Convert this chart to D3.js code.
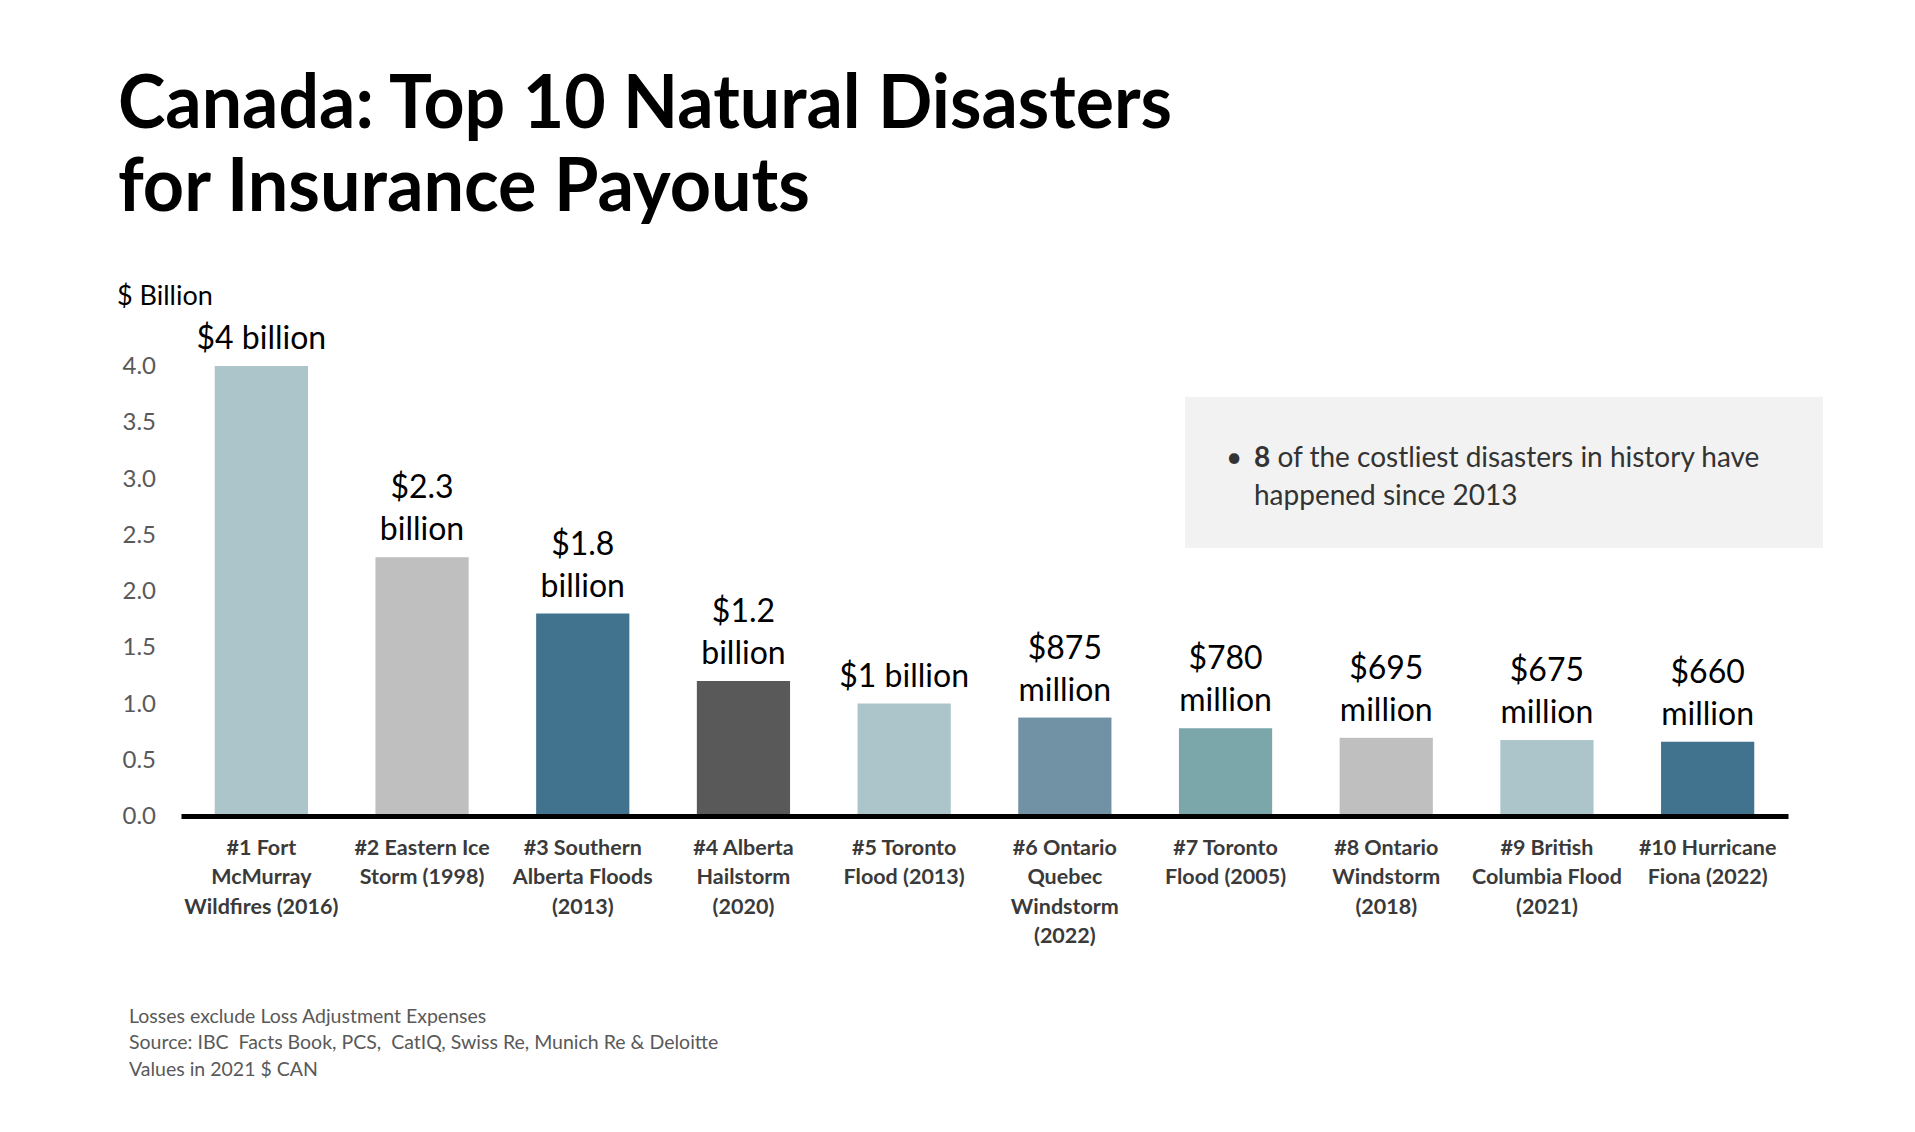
<!DOCTYPE html>
<html>
<head>
<meta charset="utf-8">
<script src="https://cdn.jsdelivr.net/npm/d3@7/dist/d3.min.js"></script>
<style>
  html, body { margin: 0; padding: 0; background: #ffffff; }
  svg { display: block; font-family: Lato, "Open Sans", sans-serif; }
</style>
</head>
<body>
<svg id="chart" width="1915" height="1132"></svg>
<script>
// ---- data ----
const categories = [
  ["#1 Fort", "McMurray", "Wildfires (2016)"],
  ["#2 Eastern Ice", "Storm (1998)"],
  ["#3 Southern", "Alberta Floods", "(2013)"],
  ["#4 Alberta", "Hailstorm", "(2020)"],
  ["#5 Toronto", "Flood (2013)"],
  ["#6 Ontario", "Quebec", "Windstorm", "(2022)"],
  ["#7 Toronto", "Flood (2005)"],
  ["#8 Ontario", "Windstorm", "(2018)"],
  ["#9 British", "Columbia Flood", "(2021)"],
  ["#10 Hurricane", "Fiona (2022)"]
];
const values = [4.0, 2.3, 1.8, 1.2, 1.0, 0.875, 0.78, 0.695, 0.675, 0.66];
const valueLabels = [
  ["$4 billion"],
  ["$2.3", "billion"],
  ["$1.8", "billion"],
  ["$1.2", "billion"],
  ["$1 billion"],
  ["$875", "million"],
  ["$780", "million"],
  ["$695", "million"],
  ["$675", "million"],
  ["$660", "million"]
];
const barColors = ["#abc5ca", "#bfbfbf", "#41728e", "#595959", "#abc5ca",
                   "#7192a4", "#7ba7ab", "#bfbfbf", "#abc5ca", "#41728e"];
const yTicks = [0, 0.5, 1.0, 1.5, 2.0, 2.5, 3.0, 3.5, 4.0];
const titleLines = ["Canada: Top 10 Natural Disasters", "for Insurance Payouts"];
const notes = [
  "Losses exclude Loss Adjustment Expenses",
  "Source: IBC\u00a0 Facts Book, PCS,\u00a0 CatIQ, Swiss Re, Munich Re & Deloitte",
  "Values in 2021 $ CAN"
];

// ---- layout ----
const svg = d3.select("#chart");
const plot = { left: 181, right: 1788, top: 366, bottom: 816 };

const x = d3.scaleBand()
  .domain(d3.range(values.length))
  .range([plot.left, plot.right])
  .paddingInner(0.42)
  .paddingOuter(0.21);

const y = d3.scaleLinear().domain([0, 4]).range([plot.bottom, plot.top]);

// title
const titleWidths = [1054, 692];
svg.append("g").selectAll("text")
  .data(titleLines)
  .join("text")
  .attr("x", 118)
  .attr("y", (d, i) => 128 + i * 83)
  .attr("font-size", 74)
  .attr("font-weight", 700)
  .attr("fill", "#000")
  .attr("textLength", (d, i) => titleWidths[i])
  .attr("lengthAdjust", "spacingAndGlyphs")
  .text(d => d);

// y unit label
svg.append("text")
  .attr("x", 117).attr("y", 305)
  .attr("font-size", 27).attr("fill", "#000")
  .text("$ Billion");

// y axis (labels only)
const yAxis = d3.axisLeft(y).tickValues(yTicks).tickFormat(d3.format(".1f")).tickSize(0).tickPadding(0);
const yg = svg.append("g").attr("transform", "translate(156,0)").call(yAxis);
yg.select(".domain").remove();
yg.selectAll("text").attr("font-size", 24).attr("fill", "#595959").attr("font-family", "Lato, sans-serif");

// bars
svg.append("g").selectAll("rect")
  .data(values)
  .join("rect")
  .attr("x", (d, i) => x(i))
  .attr("width", x.bandwidth())
  .attr("y", d => y(d))
  .attr("height", d => y(0) - y(d))
  .attr("fill", (d, i) => barColors[i]);

// baseline axis
const xAxis = d3.axisBottom(x).tickSize(0).tickSizeOuter(0).tickFormat("");
const xg = svg.append("g").attr("transform", `translate(0,${plot.bottom})`).call(xAxis);
xg.select(".domain").attr("stroke", "#000").attr("stroke-width", 5);

// value labels
const vl = svg.append("g");
values.forEach((v, i) => {
  const lines = valueLabels[i];
  const cx = x(i) + x.bandwidth() / 2;
  lines.forEach((t, j) => {
    vl.append("text")
      .attr("x", cx)
      .attr("y", y(v) - 17 - (lines.length - 1 - j) * 42)
      .attr("text-anchor", "middle")
      .attr("font-size", 32)
      .attr("fill", "#000")
      .text(t);
  });
});

// category labels
const cl = svg.append("g");
categories.forEach((lines, i) => {
  const cx = x(i) + x.bandwidth() / 2;
  lines.forEach((t, j) => {
    cl.append("text")
      .attr("x", cx)
      .attr("y", 855 + j * 29.3)
      .attr("text-anchor", "middle")
      .attr("font-size", 21.5)
      .attr("font-weight", 700)
      .attr("fill", "#3a3a3a")
      .text(t);
  });
});

// note box
svg.append("rect")
  .attr("x", 1185).attr("y", 397)
  .attr("width", 638).attr("height", 151)
  .attr("fill", "#f2f2f2");
svg.append("text")
  .attr("x", 1226).attr("y", 467)
  .attr("font-size", 28).attr("fill", "#333")
  .text("\u2022");
const bt = svg.append("text")
  .attr("x", 1254).attr("y", 467)
  .attr("font-size", 28).attr("fill", "#333");
bt.append("tspan").attr("font-weight", 700).text("8");
bt.append("tspan").text(" of the costliest disasters in history have");
svg.append("text")
  .attr("x", 1254).attr("y", 505)
  .attr("font-size", 28).attr("fill", "#333")
  .text("happened since 2013");

// footnotes
svg.append("g").selectAll("text")
  .data(notes)
  .join("text")
  .attr("x", 129)
  .attr("y", (d, i) => 1023 + i * 26.3)
  .attr("font-size", 19.5)
  .attr("fill", "#595959")
  .text(d => d);
</script>
</body>
</html>
